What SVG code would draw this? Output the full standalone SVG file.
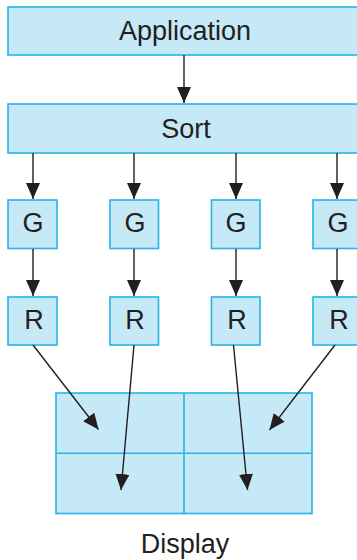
<svg xmlns="http://www.w3.org/2000/svg" width="357" height="560" viewBox="0 0 357 560">
<style>
.box{fill:#c6e9f8;stroke:#27b3e6;stroke-width:1.6}
.lbl{font-family:"Liberation Sans",Arial,sans-serif;font-size:27px;fill:#231f20;text-anchor:middle}
.conn{stroke:#231f20;stroke-width:1.4;fill:none;marker-end:url(#ah)}
</style>
<defs>
<marker id="ah" markerUnits="userSpaceOnUse" markerWidth="16" markerHeight="14" refX="16" refY="7" orient="auto" viewBox="0 0 16 14">
<path d="M0,0 L16,7 L0,14 z" fill="#231f20"/>
</marker>
</defs>
<rect width="357" height="560" fill="#ffffff"/>
<g id="application"><rect class="box" x="8" y="7" width="360" height="48"/><text class="lbl" x="185" y="40">Application</text></g>
<g id="sort"><rect class="box" x="8" y="104" width="360" height="49"/><text class="lbl" x="186" y="138">Sort</text></g>
<g id="g1"><rect class="box" x="8" y="200" width="49" height="48.5"/><text class="lbl" x="33" y="232">G</text></g>
<g id="g2"><rect class="box" x="110" y="200" width="48.5" height="48.5"/><text class="lbl" x="135" y="232">G</text></g>
<g id="g3"><rect class="box" x="211.5" y="200" width="48.5" height="48.5"/><text class="lbl" x="236" y="232">G</text></g>
<g id="g4"><rect class="box" x="313" y="200" width="49" height="48.5"/><text class="lbl" x="338" y="232">G</text></g>
<g id="r1"><rect class="box" x="8" y="297" width="49" height="48"/><text class="lbl" x="34" y="329">R</text></g>
<g id="r2"><rect class="box" x="110" y="297" width="48.5" height="48"/><text class="lbl" x="135" y="329">R</text></g>
<g id="r3"><rect class="box" x="211.5" y="297" width="48.5" height="48"/><text class="lbl" x="237" y="329">R</text></g>
<g id="r4"><rect class="box" x="313" y="297" width="49" height="48"/><text class="lbl" x="339" y="329">R</text></g>
<g id="display">
<rect class="box" x="56" y="393" width="256" height="120.5"/>
<line x1="184" y1="393" x2="184" y2="513.5" stroke="#27b3e6" stroke-width="1.6"/>
<line x1="56" y1="453.3" x2="312" y2="453.3" stroke="#27b3e6" stroke-width="1.6"/>
<text class="lbl" x="185" y="553">Display</text>
</g>
<g id="connectors">
<line class="conn" x1="184" y1="55" x2="184" y2="103"/>
<line class="conn" x1="33" y1="153" x2="33" y2="199"/>
<line class="conn" x1="134" y1="153" x2="134" y2="199"/>
<line class="conn" x1="236" y1="153" x2="236" y2="199"/>
<line class="conn" x1="337" y1="153" x2="337" y2="199"/>
<line class="conn" x1="33" y1="249" x2="33" y2="296"/>
<line class="conn" x1="134" y1="249" x2="134" y2="296"/>
<line class="conn" x1="236" y1="249" x2="236" y2="296"/>
<line class="conn" x1="337" y1="249" x2="337" y2="296"/>
<line class="conn" x1="33" y1="345" x2="98.5" y2="429.5"/>
<line class="conn" x1="134" y1="345" x2="121" y2="490"/>
<line class="conn" x1="233.5" y1="345" x2="247.5" y2="490"/>
<line class="conn" x1="335" y1="345" x2="269.5" y2="430"/>
</g>
</svg>
